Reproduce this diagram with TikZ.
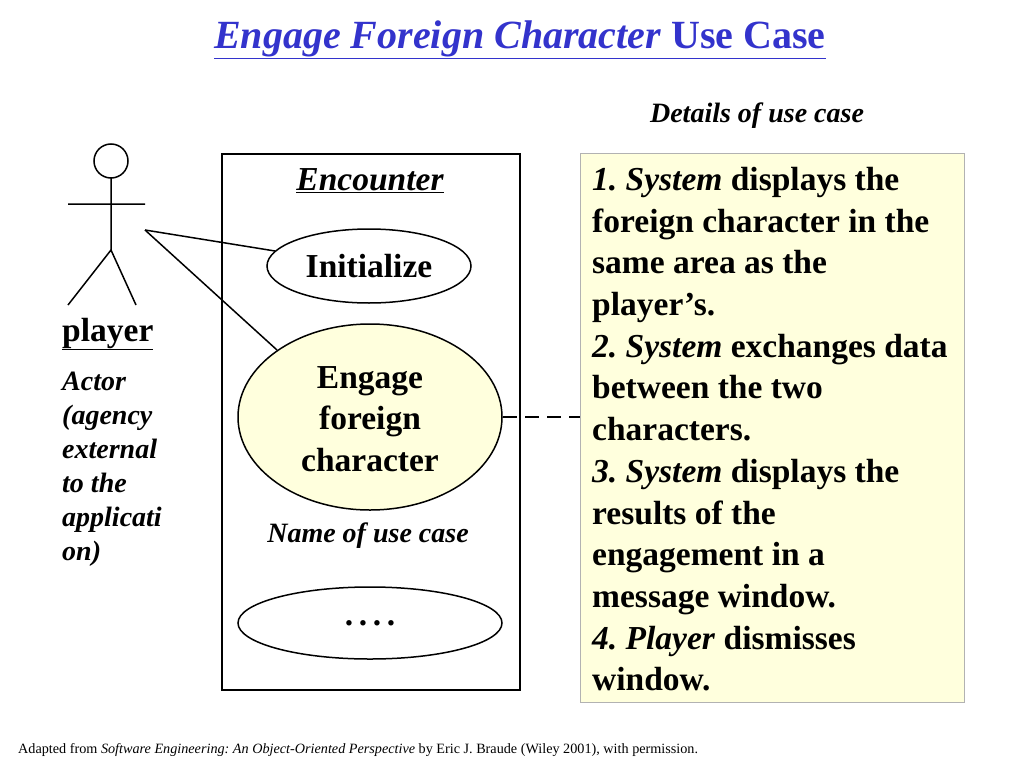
\documentclass[tikz,border=0pt]{standalone}
\usepackage{fontspec}
\setmainfont{Liberation Serif}
\usetikzlibrary{positioning}
\definecolor{titleblue}{RGB}{51,51,204}
\definecolor{noteyellow}{RGB}{255,255,221}
\frenchspacing
\tikzset{
  big/.style={font=\fontsize{33.5}{41.7}\selectfont\bfseries},
  small/.style={font=\fontsize{28}{34}\selectfont\bfseries\itshape},
  line/.style={line width=1.5pt}
}
\begin{document}
\begin{tikzpicture}[x=1pt,y=-1pt]
  \useasboundingbox (0,0) rectangle (1024,768);
  % title
  \node[font=\fontsize{40}{46}\selectfont\bfseries,text=titleblue] (title) at (520,40)
    {\underline{\textit{Engage Foreign Character} Use Case}};
  \node[small] (details) at (757,116) {Details of use case};
  % actor
  \draw[line] (111,161) circle (17);
  \draw[line] (111,178) -- (111,250) (68,204) -- (145,204)
    (68,305) -- (111,250) -- (136,305);
  \coordinate (hand) at (145,230);
  \node[big,anchor=west,inner sep=0] (player) at (62,334) {\underline{player}};
  \node[small,anchor=north west,align=left,inner sep=0] (actor) at (62,372)
    {Actor\\(agency\\external\\to the\\applicati\\on)};
  % system box
  \draw[line width=2pt] (222,154) rectangle (520,690);
  \node[big,font=\fontsize{33.5}{41.7}\selectfont\bfseries\itshape] (enc) at (370,181) {\underline{Encounter}};
  \draw[line] (369,266) ellipse (102 and 37);
  \node[big] (init) at (369,266) {Initialize};
  \draw[line,fill=noteyellow] (370,417) ellipse (132 and 93);
  \node[big,align=center] (engage) at (370,419) {Engage\\foreign\\character};
  \node[small] (name) at (368,536) {Name of use case};
  \draw[line] (370,623) ellipse (132 and 36);
  \node[big] (dots) at (370,623) {.\,.\,.\,.};
  \draw[line] (hand) -- (275,251);
  \draw[line] (hand) -- (277,350);
  % details
  \draw[gray!60,fill=noteyellow] (580,153) rectangle (964,702);
  \draw[line,dash pattern=on 14pt off 8pt] (503,417) -- (580,417);
  \node[big,anchor=north west,align=left,inner sep=0] (steps) at (592,167)
    {\textit{1. System} displays the\\foreign character in the\\same area as the\\player’s.\\
     \textit{2. System} exchanges data\\between the two\\characters.\\
     \textit{3. System} displays the\\results of the\\engagement in a\\message window.\\
     \textit{4. Player} dismisses\\window.};
  % footer
  \node[font=\fontsize{14.2}{16}\selectfont,anchor=west,inner sep=0] (foot) at (18,750)
    {Adapted from \textit{Software Engineering: An Object-Oriented Perspective} by Eric J. Braude (Wiley 2001), with permission.};
\end{tikzpicture}
\end{document}
